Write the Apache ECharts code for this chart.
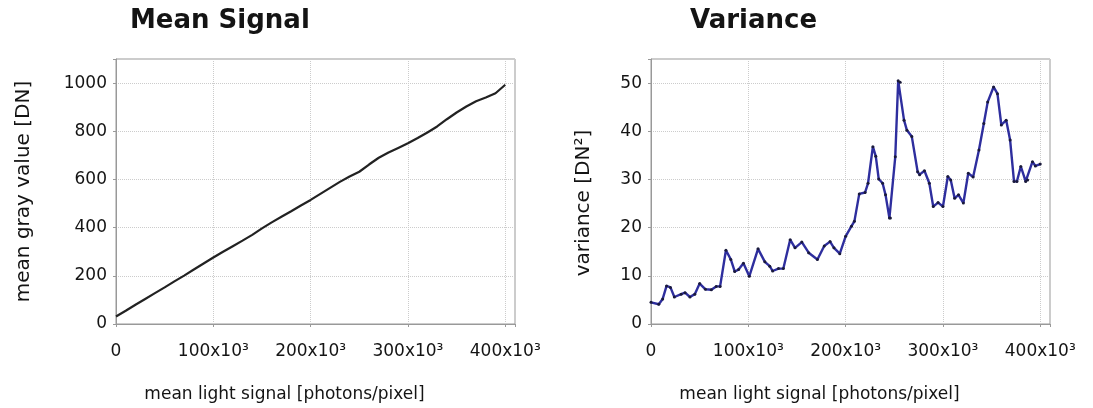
<!DOCTYPE html>
<html>
<head>
<meta charset="utf-8">
<title>Mean Signal / Variance</title>
<script src="https://cdn.jsdelivr.net/npm/echarts@6/dist/echarts.min.js"></script>
<style>
  html, body { margin: 0; padding: 0; background: #fff; }
  #chart { width: 1093px; height: 408px; }
</style>
</head>
<body>
<div id="chart"></div>
<script>
// light signal in 10^3 photons/pixel
var meanX = [0, 10, 20, 30, 40, 50, 60, 70, 80, 90, 100, 110, 120, 130, 140, 150, 160, 170, 180, 190,
  200, 210, 220, 230, 240, 250, 260, 270, 280, 290, 300, 310, 320, 330, 340, 350, 360, 370, 380, 390, 400]
var meanGray = [31, 55, 80, 104, 128, 152, 177, 201, 226, 251, 276, 300, 323, 346, 370, 397, 422, 445, 468, 492,
  515, 540, 565, 590, 612, 632, 662, 690, 712, 731, 750, 772, 795, 820, 850, 878, 903, 925, 940, 958, 993]

var varX = [0, 8, 12, 16, 20, 24, 31, 35, 40, 45, 50, 56, 62, 67, 71, 77, 82, 86, 90, 95,
  101, 110, 117, 122, 125, 131, 136, 143, 148, 155, 162, 171, 178, 184, 188, 194, 200, 206, 209, 214,
  220, 223, 228, 231, 234, 238, 241, 245, 246, 251, 254, 256, 260, 263, 268, 274, 276, 281, 286, 290,
  295, 300, 305, 308, 312, 316, 321, 326, 331, 337, 342, 346, 352, 356, 360, 365, 369, 373, 376, 380,
  385, 387, 392, 395, 400]
var variance = [4.5, 4.1, 5.2, 7.9, 7.6, 5.6, 6.2, 6.5, 5.6, 6.2, 8.4, 7.2, 7.1, 7.8, 7.8, 15.3, 13.4, 10.9, 11.3, 12.6,
  9.9, 15.6, 12.9, 12.0, 11.0, 11.5, 11.5, 17.5, 15.8, 17.0, 14.8, 13.4, 16.2, 17.1, 15.8, 14.6, 18.2, 20.3, 21.3, 27.0,
  27.3, 29.2, 36.8, 34.8, 30.1, 29.2, 26.8, 22.0, 22.0, 34.7, 50.5, 50.2, 42.3, 40.2, 38.9, 31.6, 31.0, 31.8, 29.2, 24.4,
  25.2, 24.4, 30.6, 29.9, 26.1, 26.8, 25.1, 31.3, 30.5, 36.1, 41.6, 46.1, 49.2, 47.8, 41.3, 42.3, 38.2, 29.6, 29.6, 32.7,
  29.6, 29.9, 33.7, 32.8, 33.2]

var titles = ['Mean Signal', 'Variance']
var xName = 'mean light signal [photons/pixel]'
var yNames = ['mean gray value [DN]', 'variance [DN²]']

var font = 'DejaVu Sans'
var textColor = '#141414'

function pairs (xs, ys) {
  return xs.map(function (x, i) { return [x, ys[i]] })
}

function xAxisFor (gridIndex) {
  return {
    type: 'value',
    gridIndex: gridIndex,
    min: 0,
    max: 410,
    interval: 100,
    name: xName,
    nameLocation: 'middle',
    nameGap: 62,
    nameTextStyle: { fontFamily: font, fontSize: 17, color: textColor, padding: [0, 62, 0, 0] },
    axisLine: { lineStyle: { color: '#999' } },
    axisTick: { length: 3, lineStyle: { color: '#999' } },
    axisLabel: {
      fontFamily: font,
      fontSize: 17,
      color: textColor,
      margin: 19,
      formatter: function (v) {
        if (v % 100 !== 0) return ''
        return v === 0 ? '0' : v + 'x10³'
      }
    },
    splitLine: { show: true, lineStyle: { color: '#cccccc', type: 'dotted' } }
  }
}

function yAxisFor (gridIndex, max, interval, gap, pad) {
  return {
    type: 'value',
    gridIndex: gridIndex,
    min: 0,
    max: max,
    interval: interval,
    name: yNames[gridIndex],
    nameLocation: 'middle',
    nameGap: gap,
    nameTextStyle: { fontFamily: font, fontSize: 20, color: textColor, padding: pad },
    axisLine: { show: true, lineStyle: { color: '#999' } },
    axisTick: { show: true, length: 3, lineStyle: { color: '#999' } },
    axisLabel: {
      fontFamily: font,
      fontSize: 17,
      color: textColor,
      margin: 9,
      formatter: function (v) {
        return v % interval === 0 ? String(v) : ''
      }
    },
    splitLine: { show: true, lineStyle: { color: '#cccccc', type: 'dotted' } }
  }
}

var chart = echarts.init(document.getElementById('chart'))
chart.setOption({
  backgroundColor: '#fff',
  animation: false,
  title: [
    { text: titles[0], left: 130, top: 8, padding: 0,
      textStyle: { fontFamily: font, fontSize: 26, fontWeight: 'bold', color: textColor } },
    { text: titles[1], left: 690, top: 8, padding: 0,
      textStyle: { fontFamily: font, fontSize: 26, fontWeight: 'bold', color: textColor } }
  ],
  grid: [
    { left: 116, top: 59, width: 399, height: 265, show: true, borderColor: '#999', borderWidth: 1 },
    { left: 651, top: 59, width: 399, height: 265, show: true, borderColor: '#999', borderWidth: 1 }
  ],
  xAxis: [xAxisFor(0), xAxisFor(1)],
  yAxis: [
    yAxisFor(0, 1100, 200, 82, [0, 0, 0, 0]),
    yAxisFor(1, 55, 10, 57, [0, 23, 0, 0])
  ],
  series: [
    {
      type: 'line',
      xAxisIndex: 0,
      yAxisIndex: 0,
      data: pairs(meanX, meanGray),
      showSymbol: false,
      lineStyle: { color: '#222', width: 2.2 }
    },
    {
      type: 'line',
      xAxisIndex: 1,
      yAxisIndex: 1,
      data: pairs(varX, variance),
      symbol: 'circle',
      symbolSize: 3,
      itemStyle: { color: '#1a1a3a' },
      lineStyle: { color: '#2e2e9e', width: 2.4 }
    }
  ]
})
</script>
</body>
</html>
